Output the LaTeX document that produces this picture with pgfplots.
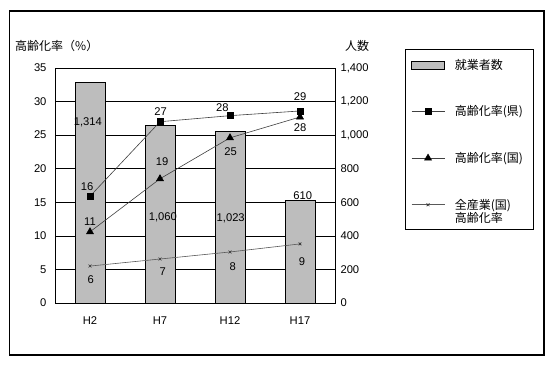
\documentclass[border=0pt]{standalone}
\usepackage{fontspec}
\setmainfont{Liberation Sans}
\newfontfamily\jp{Noto Sans CJK JP}
\usepackage{pgfplots}
\usepackage{pgfplotstable}
\pgfplotsset{compat=1.18}

\pgfplotstableread{
x n pref nat all
0 1314 15.9 10.6 5.5
1 1060 27.0 18.5 6.55
2 1023 27.9 24.6 7.6
3 610 28.6 27.7 8.8
}\data

\begin{document}
\begin{tikzpicture}
\fill[white] (0pt,0pt) rectangle (553pt,366pt);
\draw[line width=1.1pt] (9.5pt,11pt) rectangle (544pt,355pt);
\node[font=\jp\fontsize{12}{14}\selectfont, anchor=west, inner sep=0pt] at (15pt,320pt) {高齢化率（\%）};
\node[font=\jp\fontsize{12}{14}\selectfont, inner sep=0pt] at (357pt,320pt) {人数};
\draw[line width=0.8pt] (405pt,137pt) rectangle (533pt,317pt);

\begin{axis}[
  at={(55pt,63pt)}, anchor=south west,
  scale only axis, width=280pt, height=235pt,
  xmin=-0.5, xmax=3.5, ymin=0, ymax=1400,
  xtick={0,1,2,3}, xticklabels={H2,H7,H12,H17},
  ytick={0,200,...,1400},
  yticklabel pos=right,
  scaled y ticks=false,
  /pgf/number format/1000 sep={,},
  /pgf/number format/assume math mode=true,
  ymajorgrids, grid style={black, line width=0.7pt},
  major tick length=0pt,
  axis line style={line width=0.8pt},
  tick label style={font=\fontsize{11.2}{13}\selectfont},
  xticklabel style={yshift=-10pt},
  yticklabel style={xshift=2pt},
]
\addplot[ybar, bar width=30pt, fill=gray!52, draw=black, line width=0.7pt] table[x=x,y=n]{\data};
\end{axis}

\begin{axis}[
  at={(55pt,63pt)}, anchor=south west,
  scale only axis, width=280pt, height=235pt,
  xmin=-0.5, xmax=3.5, ymin=0, ymax=35,
  axis x line=none, axis y line*=left,
  ytick={0,5,...,35},
  major tick length=0pt,
  /pgf/number format/assume math mode=true,
  axis line style={line width=0.8pt},
  tick label style={font=\fontsize{11.2}{13}\selectfont},
  yticklabel style={xshift=-5pt},
  legend style={at={(1.2714,1.0468)}, anchor=north west, draw=none, fill=none,
    inner sep=0pt, row sep=31pt, column sep=8pt,
    font=\jp\fontsize{12}{14}\selectfont},
  legend cell align=left,
  legend image code/.code={\draw[mark repeat=2,mark phase=2,#1] plot coordinates {(0pt,0pt) (16.5pt,0pt) (33pt,0pt)};},
]
\addlegendimage{legend image code/.code={\draw[fill=gray!52, draw=black, line width=0.7pt] (0pt,-4pt) rectangle (33pt,4pt);}}
\addlegendentry{就業者数}
\addplot[black!75, line width=0.6pt, mark=square*, mark size=3pt, mark options={black, solid}] table[x=x,y=pref]{\data};
\addlegendentry{高齢化率(県)}
\addplot[black!75, line width=0.6pt, mark=triangle*, mark size=4pt, mark options={black, solid}] table[x=x,y=nat]{\data};
\addlegendentry{高齢化率(国)}
\addplot[black!65, line width=0.6pt, mark=x, mark size=2pt, mark options={black!80, solid}] table[x=x,y=all]{\data};
\addlegendentry{\rlap{\smash{\raisebox{-13pt}{高齢化率}}}全産業(国)}

\begin{scope}[every node/.style={font=\fontsize{11.2}{13}\selectfont, inner sep=0pt}]
\node at (axis cs:-0.04,17.4) {16};
\node at (axis cs:0,12.06) {11};
\node at (axis cs:0.01,3.43) {6};
\node at (axis cs:-0.03,26.96) {1,314};
\node at (axis cs:1.01,28.45) {27};
\node at (axis cs:1.03,21.0) {19};
\node at (axis cs:1.04,12.8) {1,060};
\node at (axis cs:1.04,4.6) {7};
\node at (axis cs:1.89,29.04) {28};
\node at (axis cs:2.01,22.5) {25};
\node at (axis cs:2.01,12.66) {1,023};
\node at (axis cs:2.04,5.36) {8};
\node at (axis cs:3.0,30.8) {29};
\node at (axis cs:3.0,26.06) {28};
\node at (axis cs:3.04,15.94) {610};
\node at (axis cs:3.03,6.1) {9};
\end{scope}
\end{axis}
\pgfresetboundingbox
\useasboundingbox (0pt,0pt) rectangle (553pt,366pt);
\end{tikzpicture}
\end{document}
